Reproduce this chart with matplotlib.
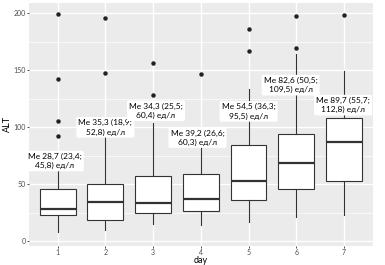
import numpy as np
import matplotlib
matplotlib.use('agg')
from matplotlib import pyplot as plt

# box statistics (ALT by day)
days = [1, 2, 3, 4, 5, 6, 7]
q1 = [23.5, 18.4, 25.2, 26.3, 36.0, 46.2, 52.9]
med = [28.5, 34.2, 34.0, 37.1, 52.6, 68.7, 87.0]
q3 = [45.6, 50.5, 57.0, 59.3, 84.2, 94.5, 108.5]
whislo = [8.4, 9.6, 14.9, 14.0, 17.0, 21.3, 23.4]
whishi = [75.0, 95.0, 104.0, 95.0, 134.0, 164.6, 149.4]
fliers = [
    [199.5, 142.0, 105.5, 92.5],
    [196.0, 148.0],
    [156.5, 128.0],
    [146.5],
    [186.5, 166.5],
    [198.0, 169.5],
    [198.5],
]

# annotation texts, their centres (x offset from the day, y in ALT units)
labels = [
    'Me 28,7 (23,4;\n45,8) ед/л',
    'Me 35,3 (18,9;\n52,8) ед/л',
    'Me 34,3 (25,5;\n60,4) ед/л',
    'Me 39,2 (26,6;\n60,3) ед/л',
    'Me 54,5 (36,3;\n95,5) ед/л',
    'Me 82,6 (50,5;\n109,5) ед/л',
    'Me 89,7 (55,7;\n112,8) ед/л',
]
label_dx = [-0.06, 0.0, 0.06, -0.07, 0.0, -0.12, -0.02]
label_y = [70.5, 100.0, 114.5, 91.0, 114.0, 137.0, 119.5]

plt.rcParams['font.family'] = ['Lato', 'DejaVu Sans']

fig = plt.figure(figsize=(3.85, 2.65), dpi=100)
ax = fig.add_axes([29 / 385, 1 - 246 / 265, (372.7 - 29) / 385, (246 - 3) / 265])

ax.set_facecolor('#EBEBEB')
for s in ax.spines.values():
    s.set_visible(False)

# grid
for v in [25, 75, 125, 175]:
    ax.axhline(v, color='white', lw=0.5, zorder=0)
for v in [0, 50, 100, 150, 200]:
    ax.axhline(v, color='white', lw=1.0, zorder=0)
for d in days:
    ax.axvline(d, color='white', lw=1.0, zorder=0)

stats = []
for i in range(len(days)):
    stats.append({
        'q1': q1[i], 'med': med[i], 'q3': q3[i],
        'whislo': whislo[i], 'whishi': whishi[i],
        'fliers': fliers[i],
    })

ax.bxp(
    stats,
    positions=days,
    widths=0.75,
    patch_artist=True,
    showcaps=False,
    boxprops=dict(facecolor='white', edgecolor='#333333', linewidth=0.8),
    medianprops=dict(color='#333333', linewidth=1.6),
    whiskerprops=dict(color='#333333', linewidth=0.8),
    flierprops=dict(marker='o', markersize=2.2, markerfacecolor='#222222',
                    markeredgecolor='#222222'),
    zorder=2,
)

for i in range(len(days)):
    ax.text(
        days[i] + label_dx[i],
        label_y[i],
        labels[i],
        ha='center', va='center',
        fontsize=6.0,
        linespacing=1.35,
        zorder=5,
        bbox=dict(boxstyle='round,pad=0.25,rounding_size=0.2', fc='white', ec='none'),
    )

ax.set_xlim(0.4, 7.6)
ax.set_ylim(-4, 209)
ax.set_xticks(days)
ax.set_xticklabels([str(d) for d in days])
ax.set_yticks([0, 50, 100, 150, 200])
ax.tick_params(axis='both', length=1.5, width=0.6, color='#333333',
               labelsize=5, labelcolor='#4D4D4D', pad=0.8)

fig.text((29 + 372.7) / 2 / 385, 1 - 260.5 / 265, 'day', fontsize=6.5,
         ha='center', va='center')
ax.set_ylabel('ALT', fontsize=6.5, labelpad=1)

plt.savefig('out.png', dpi=100)
plt.close()
